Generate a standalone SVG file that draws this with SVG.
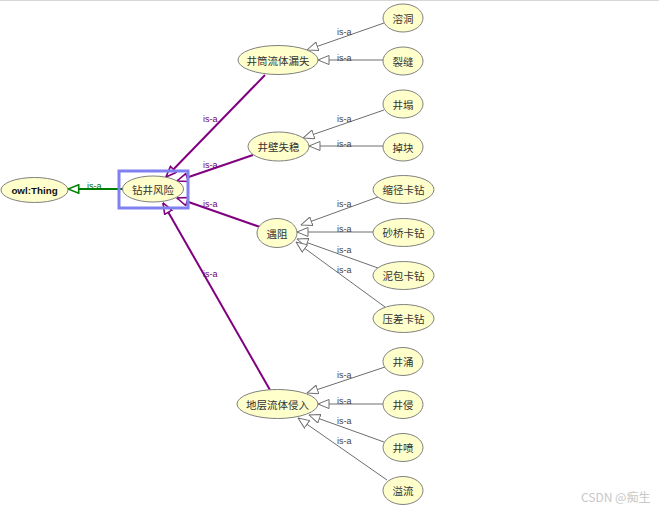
<svg xmlns="http://www.w3.org/2000/svg" width="659" height="512" viewBox="0 0 659 512">
<style>
.node ellipse{fill:#ffffcc;stroke:#808080;stroke-width:1}
.node text{font-family:"Noto Sans CJK SC","Noto Sans CJK JP",sans-serif;font-size:10.5px;fill:#333;text-anchor:middle;dominant-baseline:central}
.g{stroke:#6e6e6e;stroke-width:1;fill:none;marker-end:url(#ag)}
.p{stroke:#800080;stroke-width:2;fill:none;marker-end:url(#ap)}
.gr{stroke:#008000;stroke-width:2;fill:none;marker-end:url(#agr)}
.lbl{font-family:"Liberation Sans",Arial,sans-serif;font-size:9px}
.lg{fill:#444}
.lp{fill:#700070}
.lgr{fill:#007000}
</style>
<defs>
<marker id="ag" viewBox="0 0 12 10" refX="11.5" refY="5" markerWidth="12" markerHeight="10" markerUnits="userSpaceOnUse" orient="auto"><path d="M11.5,5 L0.5,0.5 L0.5,9.5 Z" fill="#fff" stroke="#6e6e6e" stroke-width="1"/></marker>
<marker id="ap" viewBox="0 0 12 10" refX="11.5" refY="5" markerWidth="12" markerHeight="10" markerUnits="userSpaceOnUse" orient="auto"><path d="M11.5,5 L0.8,0.8 L0.8,9.2 Z" fill="#fff" stroke="#800080" stroke-width="1.6"/></marker>
<marker id="agr" viewBox="0 0 12 10" refX="11.5" refY="5" markerWidth="12" markerHeight="10" markerUnits="userSpaceOnUse" orient="auto"><path d="M11.5,5 L0.8,0.8 L0.8,9.2 Z" fill="#fff" stroke="#008000" stroke-width="1.6"/></marker>
</defs>
<rect x="0" y="0" width="659" height="512" fill="#fff"/>
<line x1="0" y1="0.5" x2="659" y2="0.5" stroke="#d8d8d8" stroke-width="1"/>

<g id="connectors">
<line class="gr" x1="123" y1="189" x2="68" y2="189"/>
<text class="lbl lgr" x="87" y="189">is-a</text>

<line class="p" x1="265" y1="75" x2="166" y2="177"/>
<text class="lbl lp" x="203" y="122">is-a</text>
<line class="p" x1="253" y1="155" x2="177" y2="181"/>
<text class="lbl lp" x="203" y="168">is-a</text>
<line class="p" x1="260" y1="227" x2="177" y2="198"/>
<text class="lbl lp" x="203" y="207">is-a</text>
<line class="p" x1="270" y1="390" x2="163" y2="203"/>
<text class="lbl lp" x="203" y="277">is-a</text>

<line class="g" x1="384" y1="23" x2="307" y2="50"/>
<text class="lbl lg" x="337" y="35">is-a</text>
<line class="g" x1="383" y1="60" x2="318" y2="60"/>
<text class="lbl lg" x="337" y="61">is-a</text>

<line class="g" x1="384" y1="110" x2="303" y2="138"/>
<text class="lbl lg" x="337" y="122">is-a</text>
<line class="g" x1="383" y1="146" x2="309" y2="146"/>
<text class="lbl lg" x="337" y="147">is-a</text>

<line class="g" x1="378" y1="197" x2="301" y2="225"/>
<text class="lbl lg" x="337" y="207">is-a</text>
<line class="g" x1="373" y1="232" x2="297" y2="232"/>
<text class="lbl lg" x="337" y="232">is-a</text>
<line class="g" x1="378" y1="268" x2="297" y2="239"/>
<text class="lbl lg" x="337" y="253">is-a</text>
<line class="g" x1="385" y1="307" x2="296" y2="242"/>
<text class="lbl lg" x="337" y="273">is-a</text>

<line class="g" x1="385" y1="367" x2="307" y2="393"/>
<text class="lbl lg" x="337" y="378">is-a</text>
<line class="g" x1="383" y1="404" x2="318" y2="404"/>
<text class="lbl lg" x="337" y="404">is-a</text>
<line class="g" x1="384" y1="442" x2="309" y2="415"/>
<text class="lbl lg" x="337" y="424">is-a</text>
<line class="g" x1="387" y1="480" x2="298" y2="418"/>
<text class="lbl lg" x="337" y="444">is-a</text>
</g>

<g id="owl-thing" class="node"><ellipse cx="34.5" cy="190" rx="33.5" ry="12.5"/><text x="34.5" y="190" style="font-family:'Liberation Sans',Arial,sans-serif;font-weight:bold;font-size:9.8px;fill:#111">owl:Thing</text></g>

<g id="zuanjing-fengxian" class="node"><ellipse cx="153" cy="189" rx="30.5" ry="13"/><text x="153" y="189">钻井风险</text><rect x="119" y="171" width="69" height="37" fill="none" stroke="#8080f0" stroke-width="3"/></g>

<g id="jingtong-loushi" class="node"><ellipse cx="278" cy="60" rx="40" ry="14.5"/><text x="278" y="60">井筒流体漏失</text></g>
<g id="jingbi-shiwen" class="node"><ellipse cx="278.5" cy="146.5" rx="30.5" ry="14.5"/><text x="278.5" y="146.5">井壁失稳</text></g>
<g id="yuzu" class="node"><ellipse cx="277" cy="233" rx="20" ry="14.5"/><text x="277" y="233">遇阻</text></g>
<g id="diceng-qinru" class="node"><ellipse cx="277.5" cy="404" rx="40.5" ry="14.5"/><text x="277.5" y="404">地层流体侵入</text></g>

<g id="rongdong" class="node"><ellipse cx="403" cy="18" rx="20" ry="14"/><text x="403" y="18">溶洞</text></g>
<g id="liefeng" class="node"><ellipse cx="403" cy="61" rx="20" ry="14"/><text x="403" y="61">裂缝</text></g>
<g id="jingta" class="node"><ellipse cx="403" cy="104" rx="20" ry="14"/><text x="403" y="104">井塌</text></g>
<g id="diaokuai" class="node"><ellipse cx="403" cy="147" rx="20" ry="14"/><text x="403" y="147">掉块</text></g>
<g id="suojing" class="node"><ellipse cx="403.5" cy="189.5" rx="30.5" ry="14"/><text x="403.5" y="189.5">缩径卡钻</text></g>
<g id="shaqiao" class="node"><ellipse cx="403.5" cy="232.5" rx="30.5" ry="14"/><text x="403.5" y="232.5">砂桥卡钻</text></g>
<g id="nibao" class="node"><ellipse cx="403.5" cy="275.5" rx="30.5" ry="14"/><text x="403.5" y="275.5">泥包卡钻</text></g>
<g id="yacha" class="node"><ellipse cx="403.5" cy="318.5" rx="30.5" ry="14"/><text x="403.5" y="318.5">压差卡钻</text></g>
<g id="jingyong" class="node"><ellipse cx="403" cy="361.5" rx="20" ry="14"/><text x="403" y="361.5">井涌</text></g>
<g id="jingqin" class="node"><ellipse cx="403" cy="404.5" rx="20" ry="14"/><text x="403" y="404.5">井侵</text></g>
<g id="jingpen" class="node"><ellipse cx="403" cy="447.5" rx="20" ry="14"/><text x="403" y="447.5">井喷</text></g>
<g id="yiliu" class="node"><ellipse cx="403" cy="490.5" rx="20" ry="14"/><text x="403" y="490.5">溢流</text></g>

<text x="581" y="502" style="font-family:'Noto Sans CJK SC',sans-serif;font-size:12px;fill:#c8c8c8">CSDN @痴生</text>
</svg>
